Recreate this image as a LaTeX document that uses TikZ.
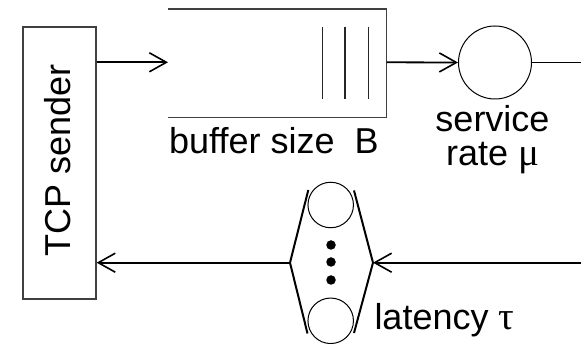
\documentclass[tikz,border=0pt]{standalone}
\usepackage{fontspec}
\setmainfont{Liberation Sans}
\newfontfamily\grk{Liberation Serif}
\usetikzlibrary{arrows.meta}
\newcommand{\gl}[1]{{\grk\fontsize{39}{39}\selectfont #1}}
\begin{document}
\begin{tikzpicture}[x=1pt,y=-1pt,
  thinbox/.style={draw=black!75,line width=1.3pt},
  flow/.style={line width=1.8pt,-{Straight Barb[length=17pt,width=19pt,line width=1.6pt]}},
  plainflow/.style={line width=1.8pt},
  srvc/.style={circle,draw,line width=1pt,inner sep=0pt},
  bracket/.style={line width=2pt},
  lbl/.style={font=\fontsize{36}{36}\selectfont,inner sep=0pt,anchor=base west},
  dotn/.style={circle,fill=black,inner sep=0pt,minimum size=9.5pt}]
\useasboundingbox (0,0) rectangle (581,344);
% TCP sender
\node[thinbox,minimum width=73pt,minimum height=272pt,inner sep=0pt] (tcp) at (59.5,163) {};
\node[font=\fontsize{36}{36}\selectfont,inner sep=0pt,rotate=90,anchor=base] (tcptxt) at (70,160.7) {TCP sender};
% buffer
\coordinate (bufin) at (168,62.3);
\coordinate (bufout) at (386.7,62.3);
\draw[thinbox] (168,9) -- (386.7,9) -- (386.7,117.7) -- (168,117.7);
\foreach \xx in {322.3,345,368.3} \draw[line width=1.2pt,draw=black!85] (\xx,26.7) -- (\xx,99);
\node[lbl] (buftxt) at (169,153.3) {buffer size\ \ B};
% server
\node[srvc,minimum size=73pt] (srv) at (495,62.5) {};
\coordinate (outR) at (581,62.5);
\node[lbl,anchor=base] (srvtxt1) at (492.5,131.5) {service};
\node[lbl,anchor=base] (srvtxt2) at (492.5,166) {rate \smash{\gl{μ}}};
% flows top
\draw[flow] (tcp.east |- bufin) -- (bufin);
\draw[flow] (bufout) -- (srv.west);
\draw[plainflow] (srv.east) -- (outR);
% latency
\coordinate (lv) at (290,262.7);
\coordinate (rv) at (373,262.7);
\draw[bracket] (308.3,190) -- (lv) -- (307.5,333.5);
\draw[bracket] (354,190.5) -- (rv) -- (354,333);
\node[srvc,minimum size=45.5pt] (c1) at (330.7,205) {};
\node[srvc,minimum size=45.5pt] (c2) at (330.7,320.8) {};
\node[dotn] (d1) at (331,245) {};
\node[dotn] (d2) at (331,262) {};
\node[dotn] (d3) at (331,280) {};
\node[lbl] (lattxt) at (374.3,329.3) {latency \gl{τ}};
\coordinate (inR) at (581,262.7);
\draw[flow] (inR) -- (rv);
\draw[flow] (lv) -- (tcp.east |- lv);
\end{tikzpicture}
\end{document}
